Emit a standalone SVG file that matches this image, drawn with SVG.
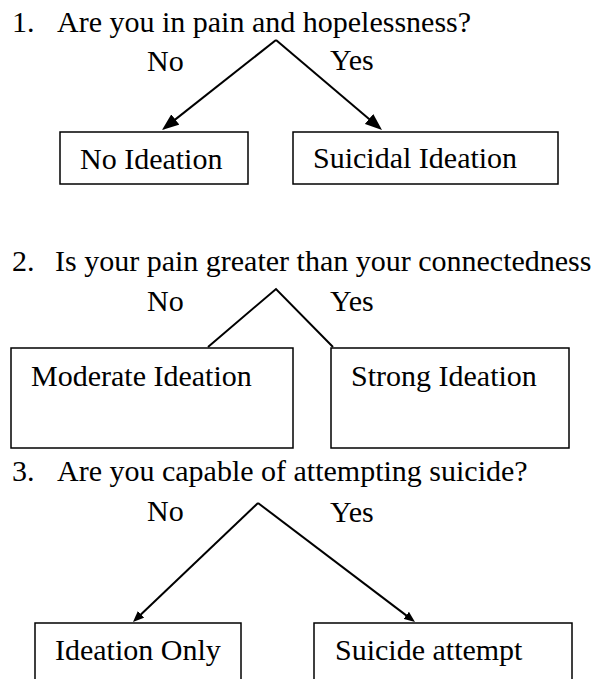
<svg xmlns="http://www.w3.org/2000/svg" width="592" height="679" viewBox="0 0 592 679">
<style>
  text { font-family: "Liberation Serif", "Times New Roman", "DejaVu Serif", serif; font-size: 30px; fill: #000; }
  .box { fill: #fff; stroke: #000; stroke-width: 1.5; }
  .conn { fill: none; stroke: #000; stroke-width: 2; }
  .arr { marker-end: url(#ah); }
  .arr2 { marker-end: url(#ah2); }
</style>
<defs>
  <marker id="ah" markerUnits="userSpaceOnUse" markerWidth="17" markerHeight="13" refX="12" refY="6.5" orient="auto" viewBox="0 0 17 13">
    <path d="M0,0 L17,6.5 L0,13 z" fill="#000"/>
  </marker>
  <marker id="ah2" markerUnits="userSpaceOnUse" markerWidth="11" markerHeight="9" refX="7" refY="4.5" orient="auto" viewBox="0 0 11 9">
    <path d="M0,0 L11,4.5 L0,9 z" fill="#000"/>
  </marker>
</defs>
<rect width="592" height="679" fill="#fff"/>

<g id="titles">
  <text x="12" y="32">1.</text><text x="57" y="32">Are you in pain and hopelessness?</text>
  <text x="12" y="271">2.</text><text x="55" y="271">Is your pain greater than your connectedness</text>
  <text x="12" y="481">3.</text><text x="57" y="481">Are you capable of attempting suicide?</text>
</g>

<g id="connectors">
  <polyline class="conn arr" points="276,40 165.9,126.9"/>
  <polyline class="conn arr" points="276,40 378.2,126.8"/>
  <polyline class="conn" points="208,347 276,289 333,347"/>
  <polyline class="conn arr2" points="258,503 135.9,619.2"/>
  <polyline class="conn arr2" points="258,503 411.8,619.6"/>
</g>

<g id="labels">
  <text x="147" y="71">No</text><text x="330" y="70">Yes</text>
  <text x="147" y="311">No</text><text x="330" y="311">Yes</text>
  <text x="147" y="521">No</text><text x="330" y="522">Yes</text>
</g>

<g id="no-ideation"><rect class="box" x="60" y="132" width="188" height="52"/><text x="80" y="169">No Ideation</text></g>
<g id="suicidal-ideation"><rect class="box" x="293" y="132" width="265" height="52"/><text x="313" y="168">Suicidal Ideation</text></g>
<g id="moderate-ideation"><rect class="box" x="11" y="348" width="282" height="100"/><text x="31" y="386">Moderate Ideation</text></g>
<g id="strong-ideation"><rect class="box" x="331" y="348" width="238" height="100"/><text x="351" y="386">Strong Ideation</text></g>
<g id="ideation-only"><rect class="box" x="35" y="623" width="206" height="70"/><text x="55" y="660">Ideation Only</text></g>
<g id="suicide-attempt"><rect class="box" x="314" y="623" width="258" height="70"/><text x="335" y="660">Suicide attempt</text></g>
</svg>
